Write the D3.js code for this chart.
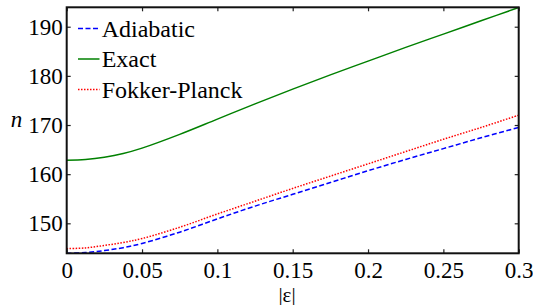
<!DOCTYPE html>
<html>
<head>
<meta charset="utf-8">
<script src="https://cdn.jsdelivr.net/npm/d3@7"></script>
<style>
  body { margin: 0; background: #fff; }
  svg { display: block; }
</style>
</head>
<body>
<div id="chart"></div>
<script>
// |eps| sample points
const eps = [0, 0.0125, 0.025, 0.0375, 0.05, 0.075, 0.1, 0.125, 0.15, 0.175, 0.2, 0.225, 0.25, 0.275, 0.3];
const adiabatic = [143.9, 144.05, 144.45, 145.05, 145.9, 148.2, 150.9, 153.5, 155.9, 158.3, 160.7, 163.0, 165.2, 167.4, 169.5];
const exact = [162.85, 163.0, 163.45, 164.2, 165.3, 168.1, 171.2, 174.3, 177.3, 180.2, 183.0, 185.8, 188.5, 191.2, 193.9];
const fokkerPlanck = [144.85, 145.0, 145.5, 146.1, 146.9, 149.2, 151.9, 154.5, 157.1, 159.6, 162.1, 164.6, 167.1, 169.5, 172.0];

const xTicks = [0, 0.05, 0.1, 0.15, 0.2, 0.25, 0.3];
const xTickLabels = ["0", "0.05", "0.1", "0.15", "0.2", "0.25", "0.3"];
const yTicks = [150, 160, 170, 180, 190];
const yTickLabels = ["150", "160", "170", "180", "190"];

const seriesNames = ["Adiabatic", "Exact", "Fokker-Planck"];

const W = 533, H = 305;
const margin = { left: 66.7, top: 7.3, right: 14.3, bottom: 51.7 };
const w = W - margin.left - margin.right;
const h = H - margin.top - margin.bottom;
const font = '"Liberation Serif", "Times New Roman", Times, serif';

const svg = d3.select("#chart").append("svg")
	.attr("width", W).attr("height", H)
	.attr("font-family", font);
const g = svg.append("g")
	.attr("transform", `translate(${margin.left},${margin.top})`);

const x = d3.scaleLinear().domain([0, 0.3]).range([0, w]);
const y = d3.scaleLinear().domain([143.9, 193.95]).range([h, 0]);

// series
const series = [
	{ name: seriesNames[0], values: adiabatic, color: "#0000ff", dash: "5,2.5" },
	{ name: seriesNames[1], values: exact, color: "#008000", dash: null },
	{ name: seriesNames[2], values: fokkerPlanck, color: "#ff0000", dash: "1.5,1.5" }
];

const line = d3.line()
	.x((d, i) => x(eps[i]))
	.y(d => y(d))
	.curve(d3.curveCatmullRom.alpha(0.5));

g.selectAll(".series")
	.data(series)
	.enter().append("path")
	.attr("class", "series")
	.attr("d", d => line(d.values))
	.attr("fill", "none")
	.attr("stroke", d => d.color)
	.attr("stroke-width", 1.5)
	.attr("stroke-dasharray", d => d.dash);

// axes: ticks pointing inward on all four sides
const xAxis = g.append("g")
	.attr("transform", `translate(0,${h})`)
	.call(d3.axisBottom(x).tickValues(xTicks)
		.tickFormat((d, i) => xTickLabels[i])
		.tickSizeInner(-4).tickSizeOuter(0));
xAxis.selectAll("text")
	.attr("y", 25.2).attr("dy", null);

const yAxis = g.append("g")
	.call(d3.axisLeft(y).tickValues(yTicks)
		.tickFormat((d, i) => yTickLabels[i])
		.tickSizeInner(-4).tickSizeOuter(0).tickPadding(4));
yAxis.selectAll("text")
	.attr("dy", "0.33em");

g.append("g")
	.call(d3.axisTop(x).tickValues(xTicks).tickFormat("")
		.tickSizeInner(-4).tickSizeOuter(0));
g.append("g")
	.attr("transform", `translate(${w},0)`)
	.call(d3.axisRight(y).tickValues(yTicks).tickFormat("")
		.tickSizeInner(-4).tickSizeOuter(0));

g.selectAll(".domain").remove();
g.selectAll("g").attr("font-family", font).attr("font-size", 23);
g.selectAll(".tick line").attr("stroke", "#222").attr("stroke-width", 1.2);
g.selectAll(".tick text")
	.attr("fill", "#000")
	.style("font-family", font)
	.style("font-size", "23px");

// frame
g.append("rect")
	.attr("x", 0).attr("y", 0)
	.attr("width", w).attr("height", h)
	.attr("fill", "none")
	.attr("stroke", "#111")
	.attr("stroke-width", 2);

// axis labels
svg.append("text")
	.attr("x", 16.5).attr("y", 127)
	.attr("text-anchor", "middle")
	.style("font-family", font)
	.style("font-style", "italic")
	.style("font-size", "23px")
	.text("n");

svg.append("text")
	.attr("x", 287).attr("y", 301.5)
	.attr("text-anchor", "middle")
	.style("font-family", font)
	.style("font-size", "21px")
	.text("|ε|");

// legend
const legend = svg.append("g");
const rowY = [36.5, 67, 97.5];
series.forEach((s, i) => {
	legend.append("line")
		.attr("x1", 78).attr("x2", 99.5)
		.attr("y1", rowY[i] - 8).attr("y2", rowY[i] - 8)
		.attr("stroke", s.color)
		.attr("stroke-width", 1.5)
		.attr("stroke-dasharray", s.dash);
	legend.append("text")
		.attr("x", 101.7).attr("y", rowY[i])
		.style("font-family", font)
		.style("font-size", "24px")
		.text(s.name);
});
</script>
</body>
</html>
